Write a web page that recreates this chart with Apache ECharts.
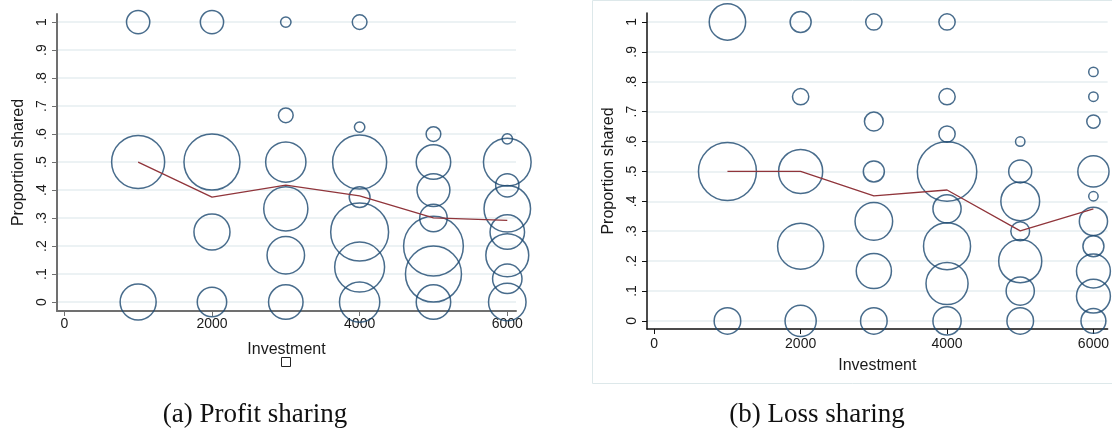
<!DOCTYPE html>
<html>
<head>
<meta charset="utf-8">
<script src="https://cdn.jsdelivr.net/npm/echarts@6/dist/echarts.min.js"></script>
<style>
  html, body { margin: 0; padding: 0; background: #fff; }
  #chart { width: 1112px; height: 436px; }
</style>
</head>
<body>
<div id="chart"></div>
<script>
// tick marks + labels
const xTicks = [0, 2000, 4000, 6000]
const yTicks = [0, 0.1, 0.2, 0.3, 0.4, 0.5, 0.6, 0.7, 0.8, 0.9, 1]
const yTickLabels = ['0', '.1', '.2', '.3', '.4', '.5', '.6', '.7', '.8', '.9', '1']

// (a) profit sharing: investment, proportion shared, number of subjects
const profitInvest = [1000, 1000, 1000,
  2000, 2000, 2000, 2000,
  3000, 3000, 3000, 3000, 3000, 3000,
  4000, 4000, 4000, 4000, 4000, 4000, 4000,
  5000, 5000, 5000, 5000, 5000, 5000, 5000,
  6000, 6000, 6000, 6000, 6000, 6000, 6000, 6000]
const profitShare = [1, 0.5, 0,
  1, 0.5, 0.25, 0,
  1, 0.667, 0.5, 0.333, 0.167, 0,
  1, 0.625, 0.5, 0.375, 0.25, 0.125, 0,
  0.6, 0.5, 0.4, 0.3, 0.2, 0.1, 0,
  0.583, 0.5, 0.417, 0.333, 0.25, 0.167, 0.083, 0]
const profitCount = [5, 26, 12,
  5, 29, 12, 8,
  1, 2, 15, 18, 13, 11,
  2, 1, 27, 4, 31, 23, 15,
  2, 11, 10, 7, 33, 29, 11,
  1, 21, 5, 20, 11, 17, 8, 13]

// (b) loss sharing
const lossInvest = [1000, 1000, 1000,
  2000, 2000, 2000, 2000, 2000,
  3000, 3000, 3000, 3000, 3000, 3000,
  4000, 4000, 4000, 4000, 4000, 4000, 4000, 4000,
  5000, 5000, 5000, 5000, 5000, 5000, 5000,
  6000, 6000, 6000, 6000, 6000, 6000, 6000, 6000, 6000, 6000]
const lossShare = [1, 0.5, 0,
  1, 0.75, 0.5, 0.25, 0,
  1, 0.667, 0.5, 0.333, 0.167, 0,
  1, 0.75, 0.625, 0.5, 0.375, 0.25, 0.125, 0,
  0.6, 0.5, 0.4, 0.3, 0.2, 0.1, 0,
  0.833, 0.75, 0.667, 0.5, 0.417, 0.333, 0.25, 0.167, 0.083, 0]
const lossCount = [15, 38, 8,
  5, 3, 22, 24, 11,
  3, 4, 5, 16, 14, 8,
  3, 3, 3, 40, 9, 25, 20, 9,
  1, 6, 17, 4, 21, 9, 8,
  1, 1, 2, 11, 1, 9, 5, 13, 13, 7]

// mean proportion shared per investment level
const levels = [1000, 2000, 3000, 4000, 5000, 6000]
const profitMean = [0.5, 0.375, 0.418, 0.379, 0.301, 0.292]
const lossMean = [0.5, 0.5, 0.418, 0.438, 0.301, 0.375]

const navy = '#1a476f'
const maroon = '#90353b'
const gridColor = '#e6eef0'

function zip3(a, b, c) {
  return a.map((v, i) => [v, b[i], c[i]])
}

function xAxisOf(idx, min, max, axisColor, axisWidth, labelMargin, nameGap) {
  return {
    gridIndex: idx, type: 'value', min: min, max: max,
    axisLine: { show: true, onZero: false, lineStyle: { color: axisColor, width: axisWidth } },
    axisTick: { show: true, customValues: xTicks, length: 5, lineStyle: { color: axisColor } },
    axisLabel: {
      customValues: xTicks, color: '#1a1a1a', fontSize: 14, margin: labelMargin,
      fontFamily: 'Liberation Sans', formatter: v => String(v)
    },
    splitLine: { show: false },
    name: 'Investment', nameLocation: 'middle', nameGap: nameGap,
    nameTextStyle: { fontSize: 16, color: '#1a1a1a', fontFamily: 'Liberation Sans' }
  }
}

function yAxisOf(idx, min, max, axisColor, axisWidth) {
  return {
    gridIndex: idx, type: 'value', min: min, max: max,
    axisLine: { show: true, onZero: false, lineStyle: { color: axisColor, width: axisWidth } },
    axisTick: { show: true, customValues: yTicks, length: 5, lineStyle: { color: axisColor } },
    axisLabel: {
      customValues: yTicks, rotate: 90, color: '#1a1a1a', fontSize: 14, margin: 8,
      fontFamily: 'Liberation Sans',
      formatter: v => yTickLabels[Math.round(v * 10)]
    },
    splitLine: { show: true, lineStyle: { color: gridColor, width: 1.5 } },
    name: 'Proportion shared', nameLocation: 'middle', nameRotate: 90, nameGap: 30,
    nameTextStyle: { fontSize: 16, color: '#1a1a1a', fontFamily: 'Liberation Sans' }
  }
}

const chart = echarts.init(document.getElementById('chart'))

const option = {
  animation: false,
  backgroundColor: '#fff',
  grid: [
    { left: 57, top: 14, width: 459, height: 297 },
    { left: 647, top: 13, width: 465, height: 316 }
  ],
  xAxis: [
    xAxisOf(0, -99, 6118, '#707070', 2, 6, 31),
    xAxisOf(1, -99, 6194, '#111', 1.5, 8, 29)
  ],
  yAxis: [
    yAxisOf(0, -0.032, 1.029, '#707070', 2),
    yAxisOf(1, -0.027, 1.030, '#111', 1.5)
  ],
  series: [
    {
      type: 'scatter', xAxisIndex: 0, yAxisIndex: 0, clip: false,
      data: zip3(profitInvest, profitShare, profitCount),
      symbolSize: v => 10.4 * Math.sqrt(v[2]),
      itemStyle: { color: 'rgba(0,0,0,0)', borderColor: navy, borderWidth: 1.5 }
    },
    {
      type: 'line', xAxisIndex: 0, yAxisIndex: 0,
      data: levels.map((x, i) => [x, profitMean[i]]),
      symbol: 'none', lineStyle: { color: maroon, width: 1.3 }
    },
    {
      type: 'scatter', xAxisIndex: 1, yAxisIndex: 1, clip: false,
      data: zip3(lossInvest, lossShare, lossCount),
      symbolSize: v => 9.4 * Math.sqrt(v[2]),
      itemStyle: { color: 'rgba(0,0,0,0)', borderColor: navy, borderWidth: 1.5 }
    },
    {
      type: 'line', xAxisIndex: 1, yAxisIndex: 1,
      data: levels.map((x, i) => [x, lossMean[i]]),
      symbol: 'none', lineStyle: { color: maroon, width: 1.3 }
    }
  ],
  graphic: [
    {
      type: 'rect', shape: { x: 592.5, y: 0.5, width: 540, height: 383 },
      style: { fill: 'none', stroke: '#dde8ea', lineWidth: 1 }, silent: true
    },
    {
      type: 'rect', shape: { x: 281.5, y: 357.5, width: 9, height: 9 },
      style: { fill: 'none', stroke: '#222', lineWidth: 1 }, silent: true
    },
    {
      type: 'text', x: 255, y: 415,
      style: { text: '(a) Profit sharing', fontSize: 27, fontFamily: 'Liberation Serif', fill: '#111', align: 'center', verticalAlign: 'middle' }
    },
    {
      type: 'text', x: 817, y: 415,
      style: { text: '(b) Loss sharing', fontSize: 27, fontFamily: 'Liberation Serif', fill: '#111', align: 'center', verticalAlign: 'middle' }
    }
  ]
}

chart.setOption(option)
</script>
</body>
</html>
